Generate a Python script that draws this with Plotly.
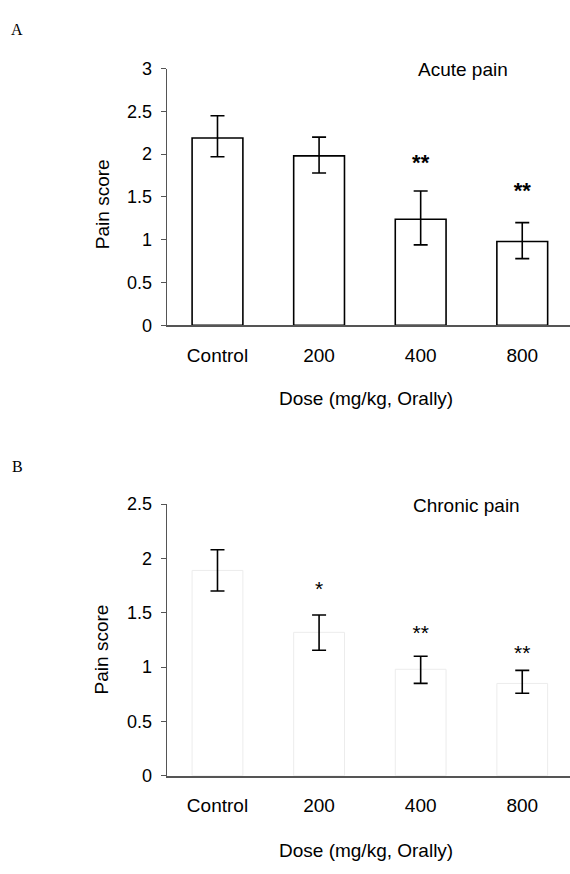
import plotly.graph_objects as go

categories = ["Control", "200", "400", "800"]

acute_mean = [2.19, 1.98, 1.24, 0.98]
acute_err_plus = [0.26, 0.22, 0.33, 0.22]
acute_err_minus = [0.22, 0.20, 0.30, 0.20]
acute_stars = ["", "", "**", "**"]
acute_star_y = [None, None, 1.88, 1.55]

chronic_mean = [1.89, 1.32, 0.98, 0.85]
chronic_err_plus = [0.19, 0.16, 0.12, 0.12]
chronic_err_minus = [0.19, 0.165, 0.13, 0.09]
chronic_stars = ["", "*", "**", "**"]
chronic_star_y = [None, 1.70, 1.30, 1.11]

acute_ticks = [0, 0.5, 1, 1.5, 2, 2.5, 3]
chronic_ticks = [0, 0.5, 1, 1.5, 2, 2.5]

W, H = 570, 874
FONT = "Liberation Sans, Arial, sans-serif"
SERIF = "Liberation Serif, Times New Roman, serif"

fig = go.Figure()

# Panel A bars
fig.add_trace(go.Bar(
    x=categories, y=acute_mean, width=0.5,
    marker=dict(color="white", line=dict(color="black", width=1.6)),
    error_y=dict(type="data", symmetric=False, array=acute_err_plus,
                 arrayminus=acute_err_minus, color="black", thickness=1.6, width=7),
    xaxis="x", yaxis="y", showlegend=False,
))
fig.add_trace(go.Scatter(
    x=categories, y=acute_star_y, text=acute_stars, mode="text",
    textfont=dict(family=FONT, size=22, color="black"),
    texttemplate="<b>%{text}</b>",
    xaxis="x", yaxis="y", showlegend=False, hoverinfo="skip",
))

# Panel B bars
fig.add_trace(go.Bar(
    x=categories, y=chronic_mean, width=0.5,
    marker=dict(color="white", line=dict(color="#ececec", width=1)),
    error_y=dict(type="data", symmetric=False, array=chronic_err_plus,
                 arrayminus=chronic_err_minus, color="black", thickness=1.6, width=7),
    xaxis="x2", yaxis="y2", showlegend=False,
))
fig.add_trace(go.Scatter(
    x=categories, y=chronic_star_y, text=chronic_stars, mode="text",
    textfont=dict(family=FONT, size=21, color="black"),
    xaxis="x2", yaxis="y2", showlegend=False, hoverinfo="skip",
))

x0 = 166.7 / W
ax_common = dict(
    type="category", range=[-0.5, 3.47], domain=[x0, 1],
    showline=True, linecolor="#555", linewidth=1.5,
    ticks="", showgrid=False, zeroline=False,
    tickfont=dict(family=FONT, size=19, color="black"),
    ticklabelstandoff=12,
)
ay_common = dict(
    showline=True, linecolor="#555", linewidth=1.2,
    ticks="outside", ticklen=5, tickcolor="#555", tickwidth=1.2,
    showgrid=False, zeroline=False,
    tickfont=dict(family=FONT, size=18, color="black"),
    ticklabelstandoff=5,
)

def dom(top_px, bot_px):
    return [1 - bot_px / H, 1 - top_px / H]

fig.update_layout(
    width=W, height=H,
    margin=dict(l=0, r=0, t=0, b=0),
    paper_bgcolor="white", plot_bgcolor="white",
    xaxis=dict(**ax_common, anchor="y"),
    yaxis=dict(**ay_common, range=[0, 3], tickvals=acute_ticks,
               domain=dom(60, 322.7), anchor="x"),
    xaxis2=dict(**ax_common, anchor="y2"),
    yaxis2=dict(**ay_common, range=[0, 2.5], tickvals=chronic_ticks,
                domain=dom(505.7, 783.7), anchor="x2"),
)

def ann(text, xpx, ypx, size=19, family=FONT, angle=0):
    fig.add_annotation(text=text, x=xpx / W, y=1 - ypx / H, xref="paper", yref="paper",
                       showarrow=False, xanchor="center", yanchor="middle",
                       textangle=angle, font=dict(family=family, size=size, color="black"))

ann("A", 17, 20, size=16, family=SERIF)
ann("B", 17, 467, size=16, family=SERIF)
ann("Acute pain", 462.5, 60.7)
ann("Chronic pain", 466.7, 507.3)
ann("Dose (mg/kg, Orally)", 365.8, 397.3)
ann("Dose (mg/kg, Orally)", 366.0, 860)
ann("Pain score", 102.7, 199, angle=-90)
ann("Pain score", 101.7, 654.7, angle=-90)

fig.write_html("out.html")
